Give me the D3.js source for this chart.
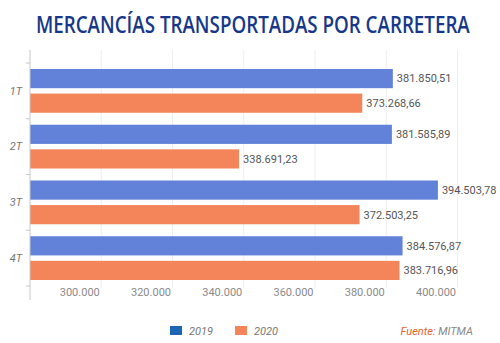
<!DOCTYPE html>
<html>
<head>
<meta charset="utf-8">
<script src="https://cdn.jsdelivr.net/npm/d3@7"></script>
<style>
  body { margin: 0; background: #fff; }
  svg { display: block; }
  text { font-family: Roboto, sans-serif; }
</style>
</head>
<body>
<svg id="chart"></svg>
<script>
const quarters = ['1T', '2T', '3T', '4T'];
const years = ['2019', '2020'];
const values2019 = [381850.51, 381585.89, 394503.78, 384576.87];
const values2020 = [373268.66, 338691.23, 372503.25, 383716.96];
const xTicks = [300000, 320000, 340000, 360000, 380000, 400000];

const width = 500;
const height = 343;
const barColors = { '2019': '#6282d9', '2020': '#f4845a' };
const legendColors = { '2019': '#1d66b4', '2020': '#f4845a' };

const svg = d3.select('#chart')
    .attr('width', width)
    .attr('height', height);

const fmt = d3.formatLocale({ decimal: ',', thousands: '.', grouping: [3], currency: ['', '€'] });
const fmtValue = fmt.format(',.2f');
const fmtTick = fmt.format(',.0f');

// title, squeezed horizontally to a condensed look
const title = svg.append('text')
    .style('font-family', '"Open Sans", sans-serif')
    .style('font-size', '24px')
    .style('font-weight', 600)
    .style('fill', '#17388a')
    .text('MERCANCÍAS TRANSPORTADAS POR CARRETERA');
const titleWidth = title.node().getComputedTextLength();
title.attr('transform', `translate(36, 33) scale(${434 / titleWidth}, 1)`);

const x = d3.scaleLinear()
    .domain([280000, 400000])
    .range([30, 457.5]);

const y = d3.scaleBand()
    .domain(quarters)
    .range([63, 286])
    .paddingInner(0.215)
    .paddingOuter(0.1075);

const ySub = d3.scaleBand()
    .domain(years)
    .range([0, y.bandwidth()])
    .paddingInner(0.22);

// vertical gridlines
svg.append('g')
    .selectAll('line')
    .data(xTicks)
    .join('line')
    .attr('x1', d => x(d))
    .attr('x2', d => x(d))
    .attr('y1', 50)
    .attr('y2', 288)
    .style('stroke', '#eeeeee')
    .style('stroke-width', 1);

// tick labels sit a bit left of their gridlines
const xAxis = svg.append('g')
    .attr('transform', 'translate(-22, 284)')
    .call(d3.axisBottom(x).tickValues(xTicks).tickFormat(fmtTick).tickSize(0).tickPadding(4));
xAxis.select('.domain').remove();
xAxis.selectAll('text')
    .style('font-family', 'Roboto, sans-serif')
    .style('font-size', '11px')
    .style('fill', '#8a8a8a');

const series = quarters.map((q, i) => ({
    quarter: q,
    bars: [
        { year: '2019', value: values2019[i] },
        { year: '2020', value: values2020[i] }
    ]
}));

const groups = svg.append('g')
    .selectAll('g')
    .data(series)
    .join('g')
    .attr('transform', d => `translate(0, ${y(d.quarter)})`);

groups.selectAll('rect')
    .data(d => d.bars)
    .join('rect')
    .attr('x', x(280000))
    .attr('y', d => ySub(d.year))
    .attr('width', d => x(d.value) - x(280000))
    .attr('height', ySub.bandwidth())
    .style('fill', d => barColors[d.year]);

groups.selectAll('text.value')
    .data(d => d.bars)
    .join('text')
    .attr('class', 'value')
    .attr('x', d => x(d.value) + 4)
    .attr('y', d => ySub(d.year) + ySub.bandwidth() / 2)
    .attr('dy', '0.35em')
    .style('font-size', '11px')
    .style('fill', '#555')
    .text(d => fmtValue(d.value));

// left axis
const yAxis = svg.append('g')
    .attr('transform', 'translate(30, 0)');
yAxis.append('line')
    .attr('x1', 0).attr('x2', 0)
    .attr('y1', 50).attr('y2', 300)
    .style('stroke', '#c8c8c8');
const bounds = quarters.map(q => y(q) - (y.step() - y.bandwidth()) / 2);
bounds.push(y(quarters[quarters.length - 1]) + y.bandwidth() + (y.step() - y.bandwidth()) / 2);
yAxis.selectAll('line.tick')
    .data(bounds)
    .join('line')
    .attr('class', 'tick')
    .attr('x1', -4).attr('x2', 0)
    .attr('y1', d => d).attr('y2', d => d)
    .style('stroke', '#c8c8c8');
yAxis.selectAll('text')
    .data(quarters)
    .join('text')
    .attr('x', -8)
    .attr('y', d => y(d) + y.bandwidth() / 2)
    .attr('dy', '0.35em')
    .attr('text-anchor', 'end')
    .style('font-size', '11px')
    .style('font-style', 'italic')
    .style('fill', '#777')
    .text(d => d);

// legend
const legend = svg.append('g')
    .selectAll('g')
    .data(years)
    .join('g')
    .attr('transform', (d, i) => `translate(${170 + i * 65}, 0)`);
legend.append('rect')
    .attr('x', 0).attr('y', 326)
    .attr('width', 12).attr('height', 9)
    .style('fill', d => legendColors[d]);
legend.append('text')
    .attr('x', 19).attr('y', 331)
    .attr('dy', '0.35em')
    .style('font-size', '11px')
    .style('font-style', 'italic')
    .style('fill', '#777')
    .text(d => d);

const source = svg.append('text')
    .attr('x', 473).attr('y', 331)
    .attr('dy', '0.35em')
    .attr('text-anchor', 'end')
    .style('font-size', '11px')
    .style('font-style', 'italic');
source.append('tspan').style('fill', '#e8632c').text('Fuente:');
source.append('tspan').style('fill', '#888').text(' MITMA');
</script>
</body>
</html>
